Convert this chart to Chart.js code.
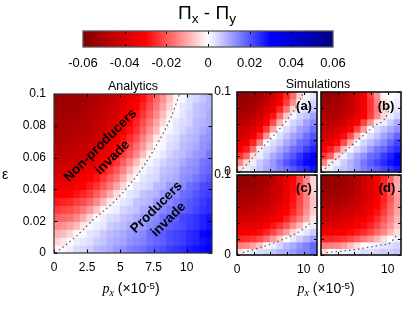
<!DOCTYPE html>
<html><head><meta charset="utf-8">
<script src="https://cdn.jsdelivr.net/npm/chart.js@4.4.0/dist/chart.umd.min.js"></script>
<style>
html,body{margin:0;padding:0;background:#fff;}
body{width:415px;height:316px;position:relative;overflow:hidden;font-family:"Liberation Sans",Arial,sans-serif;color:#000;}
canvas{position:absolute;}
.t{position:absolute;white-space:nowrap;transform:translate(-50%,-50%);line-height:1;z-index:5;}
.sb{font-size:0.72em;position:relative;top:0.32em;}
.sp{font-size:0.7em;position:relative;top:-0.45em;}
.pi{font-family:"Liberation Serif","Times New Roman",serif;font-style:italic;}
.rot{font-weight:bold;font-size:13.5px;line-height:17px;text-align:center;transform:translate(-50%,-50%) rotate(-45deg);}
.lab{font-weight:bold;font-size:13px;}
</style></head><body>
<div class="t" style="left:207px;top:12px;font-size:19px">Π<span class="sb">x</span> - Π<span class="sb">y</span></div>
<div class="t" style="left:133px;top:86px;font-size:12.5px">Analytics</div>
<div class="t" style="left:318px;top:84px;font-size:12.5px">Simulations</div>
<div class="t" style="left:5px;top:174px;font-size:14px">ε</div>
<div class="t rot" style="left:106px;top:151px">Non-producers<br>invade</div>
<div class="t rot" style="left:162px;top:213px">Producers<br>invade</div>
<div class="t lab" style="left:304px;top:105px">(a)</div>
<div class="t lab" style="left:386px;top:105px">(b)</div>
<div class="t lab" style="left:304px;top:187px">(c)</div>
<div class="t lab" style="left:387px;top:187px">(d)</div>
<div class="t" style="left:131px;top:288px;font-size:14px"><span class="pi">p</span><span class="sb pi">x</span> (×10<span class="sp">-5</span>)</div>
<div class="t" style="left:326px;top:288px;font-size:14px"><span class="pi">p</span><span class="sb pi">x</span> (×10<span class="sp">-5</span>)</div>
<script>
// ---------- data (heat values are in units of 1e-3) ----------
const UNIT = 0.001;
const CMAP_VALUES = [-0.06, -0.03, 0, 0.03, 0.06];
const CMAP_COLORS = ['#800000', '#ff0000', '#ffffff', '#0000ff', '#000080'];

const CB_RANGE = [-0.06, 0.06];
const CB_TICKS = [-0.06, -0.04, -0.02, 0, 0.02, 0.04, 0.06];
const CB_LABELS = ['-0.06', '-0.04', '-0.02', '0', '0.02', '0.04', '0.06'];

const AN_X_TICKS = [0, 2.5, 5, 7.5, 10];
const AN_X_LABELS = ['0', '2.5', '5', '7.5', '10'];
const AN_Y_TICKS = [0, 0.02, 0.04, 0.06, 0.08, 0.1];
const AN_Y_LABELS = ['0', '0.02', '0.04', '0.06', '0.08', '0.1'];
const SIM_X_TICKS = [0, 2.5, 5, 7.5, 10];
const SIM_X_LABELS = ['0', '', '', '', '10'];
const SIM_Y_TICKS = [0, 0.02, 0.04, 0.06, 0.08, 0.1];
const SIM_Y_LABELS = ['0', '', '', '', '', '0.1'];

const AN_X = [0.25,0.75,1.25,1.75,2.25,2.75,3.25,3.75,4.25,4.75,5.25,5.75,6.25,6.75,7.25,7.75,8.25,8.75,9.25,9.75,10.25,10.75,11.25,11.75];
const AN_EPS = [0.0975,0.0925,0.0875,0.0825,0.0775,0.0725,0.0675,0.0625,0.0575,0.0525,0.0475,0.0425,0.0375,0.0325,0.0275,0.0225,0.0175,0.0125,0.0075,0.0025];
const AN_VALUES = [
[-54,-54,-53,-53,-52,-50,-49,-47,-45,-42,-39,-35,-32,-28,-23,-18,-13,-7,-1,1,4,5,7,9],
[-53,-53,-52,-52,-51,-49,-48,-46,-43,-41,-37,-34,-30,-26,-21,-16,-11,-5,0,3,4,7,8,9],
[-52,-52,-51,-51,-49,-48,-46,-44,-42,-39,-36,-32,-28,-24,-19,-14,-8,-2,1,3,5,7,8,10],
[-51,-51,-50,-49,-48,-47,-45,-43,-40,-37,-34,-30,-26,-21,-16,-11,-5,0,3,4,5,8,9,10],
[-50,-50,-49,-48,-47,-46,-44,-42,-39,-36,-32,-28,-24,-19,-13,-8,-1,1,3,5,7,8,10,12],
[-49,-49,-48,-47,-46,-44,-42,-40,-37,-33,-29,-25,-21,-15,-10,-3,1,3,4,7,8,9,12,13],
[-47,-47,-46,-45,-44,-42,-40,-37,-34,-31,-27,-22,-17,-12,-6,0,1,4,5,8,9,10,13,14],
[-45,-45,-44,-43,-42,-40,-38,-35,-32,-28,-23,-19,-14,-8,-1,1,3,5,7,8,10,12,13,16],
[-43,-43,-42,-41,-39,-37,-35,-32,-28,-24,-19,-14,-8,-2,1,3,5,7,8,10,12,13,16,17],
[-40,-40,-39,-38,-36,-34,-31,-28,-24,-20,-15,-9,-3,1,3,4,7,8,9,12,13,14,17,18],
[-37,-37,-36,-35,-33,-31,-28,-24,-20,-16,-10,-4,0,3,4,5,8,9,10,13,14,16,18,20],
[-34,-34,-33,-31,-30,-27,-24,-20,-16,-11,-5,0,3,4,5,8,9,12,13,14,17,18,21,22],
[-31,-31,-30,-28,-26,-23,-19,-15,-10,-4,1,3,4,7,8,9,12,13,14,17,18,20,22,23],
[-27,-26,-25,-23,-21,-18,-14,-9,-3,1,3,4,7,8,9,12,13,14,16,18,20,21,23,25],
[-23,-22,-21,-19,-16,-12,-7,-1,1,2,5,6,7,10,11,12,14,16,17,19,20,22,24,25],
[-19,-18,-17,-14,-10,-5,0,2,4,5,7,8,10,12,13,14,17,18,19,22,23,24,26,28],
[-14,-13,-11,-8,-3,1,2,3,6,7,8,10,11,12,14,15,17,19,20,21,23,24,26,28],
[-9,-8,-5,-1,1,3,4,6,8,9,10,12,13,14,17,18,19,21,22,23,25,26,29,30],
[-5,-3,0,2,3,4,6,7,9,10,11,13,14,15,17,18,19,21,22,23,25,26,28,29],
[-1,1,2,4,5,6,8,9,10,12,13,15,16,17,19,20,21,23,24,25,27,28,29,31]
];
const AN_CONTOUR_X = [0.1, 1.6, 3.1, 4.5, 5.7, 6.7, 7.45, 8.2, 8.8, 9.45];
const AN_CONTOUR_EPS = [0, 0.01, 0.022, 0.032, 0.043, 0.054, 0.064, 0.075, 0.085, 0.1];

const SIM_X = [0.5,1.5,2.5,3.5,4.5,5.5,6.5,7.5,8.5,9.5,10.5,11.5];
const SIM_EPS = [0.0958,0.0875,0.0792,0.0708,0.0625,0.0542,0.0458,0.0375,0.0292,0.0208,0.0125,0.0042];
const SIM_A = [
[-55,-54,-52,-50,-46,-40,-34,-26,-17,-6,1,3],
[-54,-53,-51,-48,-44,-38,-31,-23,-13,-1,2,5],
[-52,-51,-49,-45,-40,-34,-26,-16,-5,2,4,7],
[-50,-49,-46,-42,-36,-28,-18,-7,1,5,7,11],
[-47,-46,-42,-37,-30,-21,-9,1,5,7,11,14],
[-44,-42,-38,-32,-23,-11,1,4,7,11,13,17],
[-40,-38,-33,-25,-13,0,4,7,11,13,17,20],
[-36,-33,-26,-15,0,4,6,10,13,17,19,23],
[-31,-27,-17,-2,4,6,10,13,17,19,23,26],
[-24,-18,-4,2,6,10,13,17,20,24,28,31],
[-15,-5,2,6,9,12,16,20,23,26,29,32],
[-4,2,4,7,10,12,15,17,20,23,25,28]
];
const SIM_B = [
[-55,-54,-52,-49,-45,-38,-31,-23,-13,-1,0,1],
[-54,-53,-51,-48,-44,-39,-32,-24,-15,-4,1,2],
[-52,-51,-49,-47,-43,-38,-32,-24,-16,-6,1,3],
[-50,-49,-48,-45,-41,-36,-30,-23,-14,-5,2,5],
[-47,-46,-44,-41,-36,-30,-22,-13,-2,2,6,10],
[-44,-43,-40,-36,-30,-22,-12,0,4,7,10,13],
[-40,-38,-35,-29,-21,-10,1,4,7,11,14,18],
[-36,-34,-29,-21,-10,1,5,8,11,14,18,22],
[-31,-27,-20,-8,1,5,8,12,16,18,22,25],
[-24,-19,-6,2,6,10,13,17,19,23,26,30],
[-15,-3,2,6,9,12,16,19,22,25,28,31],
[-3,2,5,7,9,12,15,17,19,22,24,27]
];
const SIM_C = [
[-56,-55,-54,-52,-50,-46,-41,-36,-30,-22,-14,-5],
[-55,-54,-53,-51,-49,-45,-41,-35,-29,-22,-14,-5],
[-53,-52,-51,-50,-47,-44,-40,-35,-29,-22,-15,-6],
[-51,-50,-49,-48,-45,-42,-39,-34,-28,-22,-15,-7],
[-48,-47,-47,-45,-43,-40,-36,-32,-27,-21,-15,-7],
[-45,-44,-44,-42,-40,-37,-34,-30,-25,-20,-13,-6],
[-41,-41,-40,-38,-36,-33,-30,-26,-21,-16,-10,-3],
[-37,-36,-36,-34,-31,-28,-24,-20,-14,-8,-1,2],
[-33,-32,-31,-29,-26,-22,-17,-12,-5,1,3,6],
[-26,-25,-24,-21,-17,-12,-6,0,3,6,9,12],
[-15,-14,-11,-7,-1,2,5,8,10,13,15,18],
[-4,0,2,4,5,7,9,10,12,14,15,17]
];
const SIM_D = [
[-56,-55,-54,-53,-50,-47,-43,-38,-32,-26,-19,-10],
[-56,-55,-54,-53,-50,-47,-43,-38,-32,-26,-19,-10],
[-54,-53,-52,-51,-49,-46,-42,-37,-32,-26,-19,-11],
[-52,-51,-51,-49,-47,-44,-41,-36,-32,-26,-20,-12],
[-49,-48,-48,-46,-44,-42,-38,-34,-30,-25,-18,-12],
[-46,-45,-45,-43,-42,-39,-36,-32,-28,-23,-17,-11],
[-42,-42,-41,-39,-38,-35,-33,-29,-25,-20,-15,-9],
[-38,-38,-37,-36,-34,-32,-29,-26,-22,-17,-13,-7],
[-33,-33,-32,-31,-29,-27,-25,-22,-18,-14,-9,-4],
[-26,-26,-25,-24,-22,-19,-16,-13,-9,-4,0,2],
[-16,-15,-14,-12,-8,-4,0,1,2,3,4,5],
[-5,0,1,1,2,3,4,4,5,6,6,7]
];
const SIM_A_CX = [0.4, 2.6, 5.2, 7.4, 9.2, 10.0];
const SIM_A_CY = [0.0, 0.02, 0.043, 0.064, 0.086, 0.1];
const SIM_B_CX = [0.6, 2.9, 5.4, 7.9, 9.9, 10.4];
const SIM_B_CY = [0.004, 0.021, 0.039, 0.057, 0.071, 0.085];
const SIM_C_CX = [0.9, 3.9, 6.95, 9.5, 11.2];
const SIM_C_CY = [0.003, 0.0105, 0.0197, 0.03, 0.041];
const SIM_D_CX = [0.85, 4.6, 8.7, 10.4, 11.3];
const SIM_D_CY = [0.003, 0.0063, 0.012, 0.0155, 0.024];

// ---------- helpers ----------
const FONT = '"Liberation Sans", Arial, sans-serif';
const RGB = CMAP_COLORS.map(h => [parseInt(h.slice(1,3),16), parseInt(h.slice(3,5),16), parseInt(h.slice(5,7),16)]);
function colorOf(v) {
  const n = CMAP_VALUES.length;
  if (v <= CMAP_VALUES[0]) return CMAP_COLORS[0];
  if (v >= CMAP_VALUES[n-1]) return CMAP_COLORS[n-1];
  for (let i = 0; i < n - 1; i++) {
    if (v <= CMAP_VALUES[i+1]) {
      const f = (v - CMAP_VALUES[i]) / (CMAP_VALUES[i+1] - CMAP_VALUES[i]);
      const a = RGB[i], b = RGB[i+1];
      return 'rgb(' + [0,1,2].map(k => Math.round(a[k] + (b[k]-a[k])*f)).join(',') + ')';
    }
  }
}

const framePlugin = {
  id: 'frame',
  afterDraw(chart, args, o) {
    const {ctx, chartArea: a, scales} = chart;
    ctx.save();
    ctx.strokeStyle = o.tickColor; ctx.lineWidth = 1;
    const L = o.tickLen;
    const seg = (x1,y1,x2,y2) => { ctx.beginPath(); ctx.moveTo(x1,y1); ctx.lineTo(x2,y2); ctx.stroke(); };
    (o.xTicks || []).forEach(v => {
      const p = Math.round(scales.x.getPixelForValue(v)) + 0.5;
      seg(p, a.top, p, a.top + L); seg(p, a.bottom, p, a.bottom - L);
    });
    (o.yTicks || []).forEach(v => {
      const p = Math.round(scales.y.getPixelForValue(v)) + 0.5;
      seg(a.left, p, a.left + L, p); seg(a.right, p, a.right - L, p);
    });
    ctx.strokeStyle = o.color; ctx.lineWidth = o.width;
    ctx.strokeRect(a.left, a.top, a.right - a.left, a.bottom - a.top);
    ctx.restore();
  }
};

function makeCanvas(x, y, w, h) {
  const c = document.createElement('canvas');
  c.width = w; c.height = h;
  c.style.left = x + 'px'; c.style.top = y + 'px';
  c.style.width = w + 'px'; c.style.height = h + 'px';
  document.body.appendChild(c);
  return c;
}

function heatChart(p) {
  const m = p.margins;
  const cv = makeCanvas(p.rect.x - m.l, p.rect.y - m.t, p.rect.w + m.l + m.r, p.rect.h + m.t + m.b);
  const datasets = p.values.map((row, r) => ({
    type: 'bar',
    data: row.map((v, c) => ({x: p.xs[c], y: [p.eps[r] - p.deps / 2, p.eps[r] + p.deps / 2]})),
    backgroundColor: row.map(v => colorOf(v * UNIT)),
    borderWidth: 0, inflateAmount: 0.6, grouped: false,
    barPercentage: 1, categoryPercentage: 1, order: 2
  }));
  datasets.push({
    type: 'line',
    data: p.cx.map((x, i) => ({x: x, y: p.cy[i]})),
    borderColor: '#555', borderWidth: 1.2, borderDash: [1.5, 3],
    pointRadius: 0, cubicInterpolationMode: 'monotone', fill: false, order: 0
  });
  return new Chart(cv, {
    type: 'bar',
    data: {datasets},
    options: {
      responsive: false, animation: false, devicePixelRatio: 1,
      layout: {padding: {top: m.t, right: m.r, left: 0, bottom: 0}},
      plugins: {legend: {display: false}, tooltip: {enabled: false},
        frame: {color: p.frameColor, width: p.frameWidth, tickColor: '#000', tickLen: p.tickLen, xTicks: p.xTicks, yTicks: p.yTicks}},
      scales: {
        x: {type: 'linear', min: 0, max: p.xMax, offset: false,
          grid: {display: false, drawTicks: false}, border: {display: false},
          afterBuildTicks: s => { s.ticks = p.xTicks.map(v => ({value: v})); },
          afterFit: s => { s.height = m.b; },
          ticks: {display: true, padding: 7, color: '#000', autoSkip: false, maxRotation: 0,
            font: {family: FONT, size: 12}, callback: (v, i) => p.showX ? p.xLabels[i] : ''}},
        y: {type: 'linear', min: 0, max: 0.1,
          grid: {display: false, drawTicks: false}, border: {display: false},
          afterBuildTicks: s => { s.ticks = p.yTicks.map(v => ({value: v})); },
          afterFit: s => { s.width = m.l; },
          ticks: {display: true, padding: p.yPad, color: '#000', autoSkip: false,
            font: {family: FONT, size: 12}, callback: (v, i) => p.showY ? p.yLabels[i] : ''}}
      }
    },
    plugins: [framePlugin]
  });
}

// ---------- colour bar ----------
(function () {
  const rect = {x: 83, y: 31, w: 250, h: 16};
  const m = {l: 40, r: 40, t: 8, b: 28};
  const cv = makeCanvas(rect.x - m.l, rect.y - m.t, rect.w + m.l + m.r, rect.h + m.t + m.b);
  new Chart(cv, {
    type: 'bar',
    data: {labels: [''], datasets: [{
      data: [CB_RANGE],
      backgroundColor: (c) => {
        const ch = c.chart, xs = ch.scales.x;
        if (!ch.chartArea || !xs) return 'rgba(0,0,0,0)';
        const g = ch.ctx.createLinearGradient(xs.getPixelForValue(CB_RANGE[0]), 0, xs.getPixelForValue(CB_RANGE[1]), 0);
        CMAP_VALUES.forEach((v, i) => g.addColorStop((v - CB_RANGE[0]) / (CB_RANGE[1] - CB_RANGE[0]), CMAP_COLORS[i]));
        return g;
      },
      borderWidth: 0, barPercentage: 1, categoryPercentage: 1
    }]},
    options: {
      indexAxis: 'y', responsive: false, animation: false, devicePixelRatio: 1,
      layout: {padding: {top: m.t, right: m.r, left: m.l, bottom: 0}},
      plugins: {legend: {display: false}, tooltip: {enabled: false},
        frame: {color: '#555', width: 1.3, tickColor: '#000', tickLen: 3, xTicks: CB_TICKS.slice(1, -1), yTicks: []}},
      scales: {
        x: {type: 'linear', position: 'bottom', min: CB_RANGE[0], max: CB_RANGE[1],
          grid: {display: false, drawTicks: false}, border: {display: false},
          afterBuildTicks: s => { s.ticks = CB_TICKS.map(v => ({value: v})); },
          afterFit: s => { s.height = m.b; },
          ticks: {padding: 9, color: '#000', autoSkip: false, maxRotation: 0,
            font: {family: FONT, size: 13}, callback: (v, i) => CB_LABELS[i]}},
        y: {display: false}
      }
    },
    plugins: [framePlugin]
  });
})();

// ---------- analytics panel ----------
heatChart({
  rect: {x: 54, y: 94, w: 158, h: 159},
  margins: {l: 54, r: 14, t: 16, b: 31},
  xs: AN_X, eps: AN_EPS, deps: 0.005, values: AN_VALUES,
  cx: AN_CONTOUR_X, cy: AN_CONTOUR_EPS, xMax: 11.9,
  xTicks: AN_X_TICKS, xLabels: AN_X_LABELS, yTicks: AN_Y_TICKS, yLabels: AN_Y_LABELS,
  showX: true, showY: true, yPad: 8, frameColor: '#333', frameWidth: 1.2, tickLen: 3.5
});

// ---------- simulation panels ----------
const SIM_PANELS = [
  {rect: {x: 237, y: 92, w: 80, h: 80}, values: SIM_A, cx: SIM_A_CX, cy: SIM_A_CY, showX: false, showY: true},
  {rect: {x: 321, y: 92, w: 80, h: 80}, values: SIM_B, cx: SIM_B_CX, cy: SIM_B_CY, showX: false, showY: false},
  {rect: {x: 237, y: 175, w: 80, h: 80}, values: SIM_C, cx: SIM_C_CX, cy: SIM_C_CY, showX: true, showY: true},
  {rect: {x: 321, y: 175, w: 80, h: 80}, values: SIM_D, cx: SIM_D_CX, cy: SIM_D_CY, showX: true, showY: false}
];
SIM_PANELS.forEach(sp => heatChart({
  rect: sp.rect, margins: {l: 30, r: 6, t: 16, b: 24},
  xs: SIM_X, eps: SIM_EPS, deps: 0.1 / 12, values: sp.values,
  cx: sp.cx, cy: sp.cy, xMax: 12,
  xTicks: SIM_X_TICKS, xLabels: SIM_X_LABELS, yTicks: SIM_Y_TICKS, yLabels: SIM_Y_LABELS,
  showX: sp.showX, showY: sp.showY, yPad: 6, frameColor: '#111', frameWidth: 1.6, tickLen: 3
}));
</script>
</body></html>
